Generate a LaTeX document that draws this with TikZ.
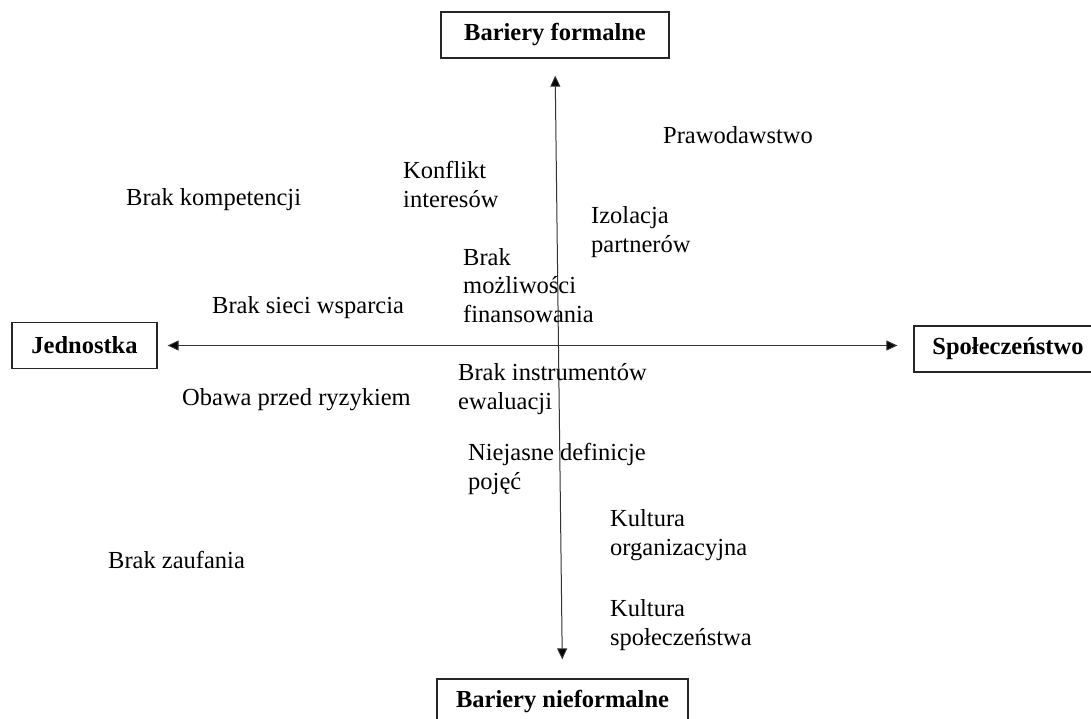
\documentclass[tikz,border=0pt]{standalone}
\usepackage{fontspec}
\setmainfont{Liberation Serif}
\usetikzlibrary{arrows.meta}

\tikzset{
  axisbox/.style={draw=black!85, line width=1.3pt, fill=white, inner sep=0pt,
    font=\fontsize{24.5}{28.5}\selectfont\bfseries, minimum height=46pt},
  % multi-line labels: the base anchor sits on the last line
  lbl/.style={anchor=base west, inner sep=0pt, align=left,
    font=\fontsize{24.5}{28.5}\selectfont},
  axis/.style={draw=black!80, line width=1pt,
    {Triangle[length=11pt,width=10pt,fill=black]}-{Triangle[length=11pt,width=10pt,fill=black]}},
}

\begin{document}
\begin{tikzpicture}[x=1pt, y=-1pt]
  \useasboundingbox (0,0) rectangle (1091,718);
  \begin{scope}
    \clip (0,0) rectangle (1091,718);

    % end boxes of the two axes
    \node[axisbox, minimum width=228pt] (bf)  at (555,35)    {Bariery formalne};
    \node[axisbox, minimum width=251pt] (bnf) at (562.5,702) {Bariery nieformalne};
    \node[axisbox, minimum width=145pt] (jed) at (84.5,345.5) {Jednostka};
    \node[axisbox, minimum width=188pt] (spo) at (1008,349)  {Społeczeństwo};

    % axes
    \draw[axis, shorten <=10pt, shorten >=16pt] (jed.east) -- (jed.east -| spo.west);
    \draw[axis, shorten <=17pt, shorten >=19pt] (bf.south) -- (bnf.north);

    % barriers placed on the plane
    \node[lbl] (prawo)   at (663,143) {Prawodawstwo};
    \node[lbl] (konf)    at (403,207) {Konflikt\\interesów};
    \node[lbl] (komp)    at (126,205) {Brak kompetencji};
    \node[lbl] (izol)    at (591,252) {Izolacja\\partnerów};
    \node[lbl] (fin)     at (463,322) {Brak\\możliwości\\finansowania};
    \node[lbl] (siec)    at (212,313) {Brak sieci wsparcia};
    \node[lbl] (ewal)    at (458,409) {Brak instrumentów\\ewaluacji};
    \node[lbl] (ryzyko)  at (182,405) {Obawa przed ryzykiem};
    \node[lbl] (defin)   at (468,489) {Niejasne definicje\\pojęć};
    \node[lbl] (korg)    at (610,555) {Kultura\\organizacyjna};
    \node[lbl] (zauf)    at (108,568) {Brak zaufania};
    \node[lbl] (kspol)   at (610,645) {Kultura\\społeczeństwa};
  \end{scope}
\end{tikzpicture}
\end{document}
